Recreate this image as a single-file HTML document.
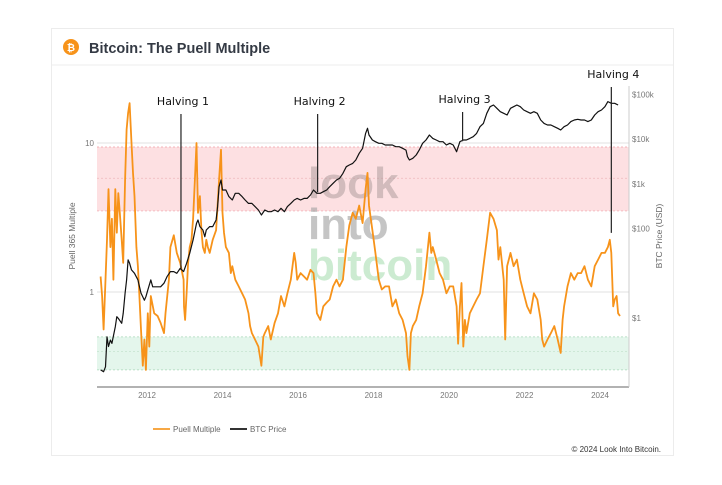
<!DOCTYPE html>
<html><head><meta charset="utf-8"><style>
body{margin:0;background:#fff;width:722px;height:485px;overflow:hidden;font-family:"Liberation Sans",sans-serif}
.card{position:absolute;left:51px;top:28px;width:623px;height:428px;border:1px solid #ececec;box-sizing:border-box;background:#fff}
</style></head><body>
<div class="card"></div>
<svg width="722" height="485" style="position:absolute;left:0;top:0">
<line x1="52" y1="65" x2="673" y2="65" stroke="#ececec"/>
<g><circle cx="71" cy="47" r="8" fill="#f7931a"/><text x="71" y="51" font-size="10" font-weight="bold" fill="#fff" text-anchor="middle">₿</text></g>
<text x="89" y="53" font-size="14.5" font-weight="bold" fill="#343a44">Bitcoin: The Puell Multiple</text>
<g id="plot"></g>
</svg>
<script>
const puellYears=[2010.77,2010.81,2010.85,2010.90,2010.94,2010.98,2011.03,2011.07,2011.11,2011.16,2011.20,2011.24,2011.28,2011.33,2011.37,2011.42,2011.46,2011.50,2011.54,2011.59,2011.63,2011.67,2011.72,2011.76,2011.80,2011.84,2011.89,2011.93,2011.97,2012.02,2012.06,2012.10,2012.19,2012.28,2012.36,2012.45,2012.49,2012.58,2012.62,2012.71,2012.79,2012.88,2012.97,2012.98,2013.01,2013.05,2013.09,2013.13,2013.18,2013.22,2013.27,2013.31,2013.35,2013.40,2013.44,2013.48,2013.53,2013.57,2013.61,2013.66,2013.74,2013.83,2013.91,2013.96,2014.00,2014.04,2014.09,2014.17,2014.22,2014.26,2014.34,2014.43,2014.52,2014.60,2014.69,2014.73,2014.78,2014.86,2014.95,2015.03,2015.08,2015.12,2015.21,2015.28,2015.38,2015.47,2015.55,2015.64,2015.72,2015.81,2015.90,2015.94,2015.98,2016.07,2016.16,2016.24,2016.33,2016.41,2016.46,2016.50,2016.59,2016.67,2016.76,2016.84,2016.93,2017.02,2017.10,2017.19,2017.28,2017.36,2017.45,2017.53,2017.62,2017.71,2017.79,2017.84,2017.88,2017.97,2018.05,2018.14,2018.22,2018.31,2018.41,2018.50,2018.59,2018.68,2018.77,2018.86,2018.90,2018.95,2018.99,2019.04,2019.13,2019.21,2019.30,2019.39,2019.48,2019.53,2019.57,2019.66,2019.75,2019.84,2019.93,2020.02,2020.11,2020.20,2020.24,2020.29,2020.33,2020.38,2020.42,2020.46,2020.55,2020.64,2020.73,2020.82,2020.91,2021.00,2021.09,2021.18,2021.27,2021.31,2021.36,2021.45,2021.49,2021.54,2021.63,2021.71,2021.80,2021.89,2021.98,2022.07,2022.16,2022.25,2022.34,2022.43,2022.47,2022.52,2022.61,2022.70,2022.79,2022.88,2022.96,2023.01,2023.05,2023.14,2023.23,2023.32,2023.41,2023.50,2023.59,2023.68,2023.77,2023.86,2023.95,2024.04,2024.13,2024.21,2024.26,2024.30,2024.35,2024.39,2024.44,2024.48,2024.53];
const puellValues=[1.27,0.94,0.56,1.21,2.24,4.9,2.0,3.1,1.21,4.9,2.5,4.6,3.4,2.24,1.57,5.7,12.3,15.9,18.5,10,6.3,4.4,2.0,1.49,0.94,0.56,0.32,0.48,0.30,0.72,0.43,0.94,0.72,0.69,0.62,0.53,0.72,1.21,2.0,2.4,1.83,1.57,1.21,0.80,0.65,0.98,1.57,2.0,2.24,3.1,5.7,10,3.4,4.4,2.6,2.0,1.83,2.24,2.0,1.83,2.24,2.6,5.7,9.0,3.4,2.5,2.0,1.83,1.34,1.49,1.21,1.09,0.98,0.89,0.72,0.59,0.53,0.48,0.43,0.32,0.50,0.53,0.59,0.48,0.62,0.72,0.94,0.80,0.98,1.21,1.83,1.57,1.21,1.34,1.27,1.21,1.41,1.34,0.98,0.72,0.65,0.80,0.85,0.89,1.09,1.21,1.09,1.21,2.0,2.8,3.4,3.1,3.8,2.9,4.9,6.3,3.8,2.6,1.83,1.21,1.04,1.09,1.09,0.80,0.89,0.72,0.65,0.53,0.37,0.30,0.53,0.59,0.65,0.80,0.98,1.49,2.5,1.83,2.0,1.65,1.34,1.21,0.98,1.09,1.09,0.80,0.45,0.80,1.15,0.43,0.65,0.53,0.72,0.80,0.89,0.98,1.49,2.24,3.4,3.1,2.6,1.65,2.0,1.21,0.48,1.49,1.83,1.49,1.65,1.21,0.98,0.80,0.72,0.98,0.89,0.65,0.48,0.43,0.48,0.53,0.59,0.48,0.39,0.65,0.80,1.09,1.34,1.21,1.34,1.34,1.49,1.21,1.09,1.49,1.65,1.83,1.83,2.0,2.24,1.83,0.80,0.89,0.94,0.72,0.69];
const priceYears=[2010.77,2010.85,2010.90,2010.94,2010.98,2011.03,2011.07,2011.16,2011.20,2011.24,2011.33,2011.37,2011.42,2011.46,2011.50,2011.54,2011.59,2011.67,2011.76,2011.84,2011.93,2011.97,2012.02,2012.10,2012.15,2012.28,2012.36,2012.45,2012.53,2012.62,2012.71,2012.79,2012.88,2012.97,2013.05,2013.13,2013.22,2013.31,2013.35,2013.40,2013.48,2013.53,2013.57,2013.66,2013.74,2013.83,2013.87,2013.91,2013.96,2014.00,2014.09,2014.17,2014.26,2014.34,2014.43,2014.52,2014.60,2014.69,2014.78,2014.95,2015.03,2015.12,2015.21,2015.29,2015.38,2015.47,2015.55,2015.64,2015.72,2015.81,2015.90,2015.98,2016.07,2016.16,2016.24,2016.33,2016.41,2016.50,2016.59,2016.67,2016.76,2016.84,2016.93,2017.02,2017.10,2017.19,2017.28,2017.36,2017.45,2017.53,2017.62,2017.71,2017.79,2017.84,2017.88,2017.97,2018.05,2018.14,2018.22,2018.31,2018.41,2018.50,2018.59,2018.68,2018.77,2018.86,2018.90,2018.95,2019.04,2019.13,2019.21,2019.30,2019.39,2019.48,2019.57,2019.66,2019.75,2019.84,2019.93,2020.02,2020.11,2020.20,2020.29,2020.38,2020.46,2020.55,2020.64,2020.73,2020.82,2020.91,2021.00,2021.09,2021.18,2021.27,2021.36,2021.45,2021.54,2021.63,2021.71,2021.80,2021.89,2021.98,2022.07,2022.16,2022.25,2022.34,2022.43,2022.52,2022.61,2022.70,2022.79,2022.88,2022.96,2023.05,2023.14,2023.23,2023.32,2023.41,2023.50,2023.59,2023.68,2023.77,2023.86,2023.95,2024.04,2024.13,2024.21,2024.30,2024.39,2024.48];
const priceValues=[0.069,0.063,0.081,0.38,0.23,0.32,0.27,0.64,1.07,0.98,0.76,1.27,3.6,7.1,19.9,16.7,11.9,10,7.1,3.6,2.5,3.0,4.2,7.1,5.0,5.0,5.0,6.0,8.4,10.9,10.9,10,12.9,10.9,16.7,28,56,131,156,111,93,66,93,111,111,156,310,867,1220,731,731,519,437,615,615,519,437,367,367,261,201,261,239,239,261,239,284,239,310,367,437,475,437,475,475,565,731,615,615,670,731,867,1030,1220,1330,1720,2430,2650,2880,3430,4830,6250,13500,17500,12400,9600,8800,8100,8100,7400,7400,7400,6800,6800,6250,5700,4060,3430,3730,4430,5700,8100,9600,12400,10400,9600,8800,8800,7400,8100,7400,5260,8800,9600,9600,10400,11400,13500,19000,22600,37900,53400,58200,49100,41300,37900,34800,49100,53400,58200,53400,45000,41300,37900,41300,37900,26900,22600,20800,20800,19000,17500,16100,19000,20800,24700,26900,27900,26900,26900,24700,26900,34800,41300,45000,53400,69200,63500,63500,58200];
const xTickYears=[2012,2014,2016,2018,2020,2022,2024];
const leftTicks=[10,1];
const rightTicks=[100000,10000,1000,100,1];
const rightTickLabels=["$100k","$10k","$1k","$100","$1"];
const halvingYears=[2012.9,2016.52,2020.36,2024.3];
const halvingLabels=["Halving 1","Halving 2","Halving 3","Halving 4"];
const halvingTops=[114,114,112,87];
const halvingBottomPrices=[12,650,9000,80];

const X0=97,X1=629,YB=387;
const xs=y=>147+(y-2012)*37.75;
const yP=v=>292-Math.log10(v)*149;
const yB=p=>318-Math.log10(p)*44.7;
const NS="http://www.w3.org/2000/svg";
const g=document.getElementById('plot');
function mk(t,a,par){const e=document.createElementNS(NS,t);for(const k in a)e.setAttribute(k,a[k]);(par||g).appendChild(e);return e;}
let e=mk('rect',{x:X0,y:yP(9.4),width:X1-X0,height:yP(3.5)-yP(9.4),fill:'#fde0e2'});


e=mk('rect',{x:X0,y:yP(0.5),width:X1-X0,height:yP(0.3)-yP(0.5),fill:'#e4f6ec'});


[[9.4,'#f0a0a8'],[5.8,'#f0b8bc'],[3.5,'#f0a0a8'],[0.5,'#a8d8b8'],[0.4,'#bfe0c8'],[0.3,'#a8d8b8']].forEach(d=>{
 mk('line',{x1:X0,x2:X1,y1:yP(d[0]),y2:yP(d[0]),stroke:d[1],'stroke-width':0.7,'stroke-dasharray':'2,2'});
});
leftTicks.forEach(v=>{
 mk('line',{x1:X0,x2:X1,y1:yP(v),y2:yP(v),stroke:'#e2e2e2','stroke-width':1});
 const t=mk('text',{x:X0-3,y:yP(v)+3,'font-size':8,fill:'#777','text-anchor':'end'});t.textContent=v;
 
 
});
[['look',198,'#a89898',0.5],['into',239,'#a0a0a0',0.6],['bitcoin',280,'#c4e8ca',0.85]].forEach(w=>{
 const t=mk('text',{x:308,y:w[1],'font-size':44,'font-weight':'bold',fill:w[2],opacity:w[3]});t.textContent=w[0];
 
 
});
mk('line',{x1:X0,x2:X1,y1:YB,y2:YB,stroke:'#666','stroke-width':1});
mk('line',{x1:X1,x2:X1,y1:86,y2:YB,stroke:'#ccc','stroke-width':1});
xTickYears.forEach(yr=>{const t=mk('text',{x:xs(yr),y:YB+11,'font-size':8,fill:'#777','text-anchor':'middle'});t.textContent=yr;
 
 });
rightTicks.forEach((p,i)=>{const t=mk('text',{x:X1+3,y:yB(p)+3,'font-size':8,fill:'#777'});t.textContent=rightTickLabels[i];
 
 });
let t=mk('text',{x:0,y:0,'font-size':8.5,fill:'#666','text-anchor':'middle',transform:'translate(75,236) rotate(-90)'});t.textContent='Puell 365 Multiple';


t=mk('text',{x:0,y:0,'font-size':8.5,fill:'#666','text-anchor':'middle',transform:'translate(662,236) rotate(-90)'});t.textContent='BTC Price (USD)';


const pd=puellYears.map((y,i)=>(i?'L':'M')+xs(y).toFixed(1)+','+yP(puellValues[i]).toFixed(1)).join('');
e=mk('path',{d:pd,fill:'none',stroke:'#f7931a','stroke-width':1.8,'stroke-linejoin':'round'});


const bd=priceYears.map((y,i)=>(i?'L':'M')+xs(y).toFixed(1)+','+yB(priceValues[i]).toFixed(1)).join('');
e=mk('path',{d:bd,fill:'none',stroke:'#111','stroke-width':1.2,'stroke-linejoin':'round'});


halvingYears.forEach((yr,i)=>{
 const x=xs(yr);
 const l=mk('line',{x1:x,x2:x,y1:halvingTops[i],y2:yB(halvingBottomPrices[i]),stroke:'#222','stroke-width':1.2});
 
 
 const tt=mk('text',{x:x+2,y:halvingTops[i]-9,'font-size':11,fill:'#111','text-anchor':'middle','font-family':'DejaVu Sans, sans-serif'});tt.textContent=halvingLabels[i];
 
 
});
mk('line',{x1:153,x2:170,y1:429,y2:429,stroke:'#f7a845','stroke-width':2});
t=mk('text',{x:173,y:432,'font-size':8,fill:'#666'});t.textContent='Puell Multiple';


mk('line',{x1:230,x2:247,y1:429,y2:429,stroke:'#333','stroke-width':2});
t=mk('text',{x:250,y:432,'font-size':8,fill:'#666'});t.textContent='BTC Price';


t=mk('text',{x:661,y:452,'font-size':8,fill:'#333','text-anchor':'end'});t.textContent='© 2024 Look Into Bitcoin.';


</script>
</body></html>
